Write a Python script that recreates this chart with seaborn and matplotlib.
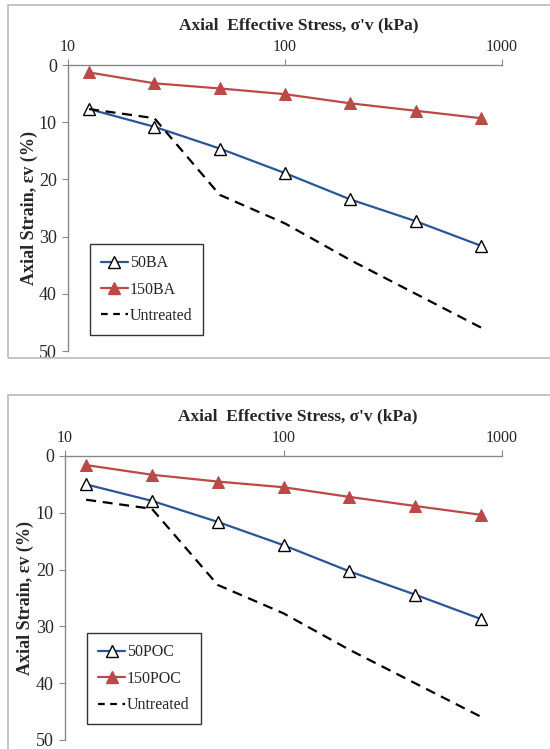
import pandas as pd
import matplotlib.pyplot as plt
import seaborn as sns
from matplotlib.patches import Rectangle
from matplotlib.lines import Line2D

# ----------------------------
# Data
# ----------------------------
stress = [12.5, 25, 50, 100, 200, 400, 800]

ba50 = [7.7, 10.8, 14.6, 18.9, 23.5, 27.3, 31.6]
ba150 = [1.3, 3.2, 4.1, 5.1, 6.7, 8.0, 9.3]

poc50 = [5.0, 7.9, 11.6, 15.7, 20.3, 24.4, 28.7]
poc150 = [1.6, 3.3, 4.5, 5.5, 7.2, 8.8, 10.35]

untreated = [7.7, 9.3, 22.7, 27.7, 34.1, 40.0, 45.9]

blue = "#2B5597"
red = "#B94A48"

sns.set_style("white")
plt.rcParams["font.family"] = ["Liberation Serif", "DejaVu Serif"]

fig = plt.figure(figsize=(5.5, 7.49), dpi=100)

# grey frames around each panel
fig.patches.append(Rectangle((8 / 550, 1 - 358 / 749), 560 / 550, 353 / 749,
                             transform=fig.transFigure, fill=False,
                             edgecolor="#BBBBBB", lw=1.2))
fig.patches.append(Rectangle((8 / 550, -0.05), 560 / 550, 1 - 395 / 749 + 0.05,
                             transform=fig.transFigure, fill=False,
                             edgecolor="#BBBBBB", lw=1.2))

ax1 = fig.add_axes([68 / 550, 1 - 351 / 749, 434 / 550, 286 / 749])
ax2 = fig.add_axes([65 / 550, 1 - 740 / 749, 437 / 550, 284 / 749])


def draw_panel(ax, low, high, low_name, high_name):
    df = pd.DataFrame({"stress": stress, "low": low, "high": high,
                       "untreated": untreated})

    sns.lineplot(data=df, x="stress", y="low", ax=ax, color=blue, lw=1.6,
                 marker="^", markersize=9, markerfacecolor="white",
                 markeredgecolor="black", markeredgewidth=1.0)
    sns.lineplot(data=df, x="stress", y="high", ax=ax, color=red, lw=1.6,
                 marker="^", markersize=9, markerfacecolor=red,
                 markeredgecolor=red)
    sns.lineplot(data=df, x="stress", y="untreated", ax=ax, color="black",
                 lw=1.6, linestyle=(0, (4.5, 3)))

    ax.set_xscale("log")
    ax.set_xlim(10, 1000)
    ax.set_ylim(50, 0)
    ax.set_yticks([0, 10, 20, 30, 40, 50])
    ax.set_xticks([10, 100, 1000])
    ax.set_xticklabels(["10", "100", "1000"])
    ax.minorticks_off()

    ax.xaxis.tick_top()
    ax.xaxis.set_label_position("top")
    ax.tick_params(axis="x", which="major", direction="out", length=4,
                   color="#888888", labelsize=11.5, pad=3)
    ax.tick_params(axis="y", which="major", direction="out", length=4,
                   color="#888888", labelsize=13, pad=4, left=True)

    for side in ["right", "bottom"]:
        ax.spines[side].set_visible(False)
    for side in ["top", "left"]:
        ax.spines[side].set_color("#888888")
        ax.spines[side].set_linewidth(1.0)

    ax.set_xlabel("Axial  Effective Stress, σ'v (kPa)", fontsize=12.5,
                  fontweight="bold")
    ax.xaxis.set_label_coords(0.532, 1.125)
    ax.set_ylabel("Axial Strain, εv (%)", fontsize=13, fontweight="bold")
    ax.yaxis.set_label_coords(-0.07, 0.5)

    handles = [
        Line2D([], [], color=blue, lw=1.6, marker="^", markersize=8,
               markerfacecolor="white", markeredgecolor="black"),
        Line2D([], [], color=red, lw=1.6, marker="^", markersize=8,
               markerfacecolor=red, markeredgecolor=red),
        Line2D([], [], color="black", lw=1.6, linestyle=(0, (3, 2.5))),
    ]
    leg = ax.legend(handles, [low_name, high_name, "Untreated"],
                    loc="lower left", bbox_to_anchor=(0.05, 0.055),
                    fontsize=11.5, frameon=True, fancybox=False,
                    edgecolor="black", handlelength=1.7, handletextpad=0.1,
                    borderpad=0.7, labelspacing=0.65, borderaxespad=0)
    leg.get_frame().set_linewidth(1.0)


draw_panel(ax1, ba50, ba150, "50BA", "150BA")
draw_panel(ax2, poc50, poc150, "50POC", "150POC")

plt.savefig("out.png", dpi=100)
plt.close()
